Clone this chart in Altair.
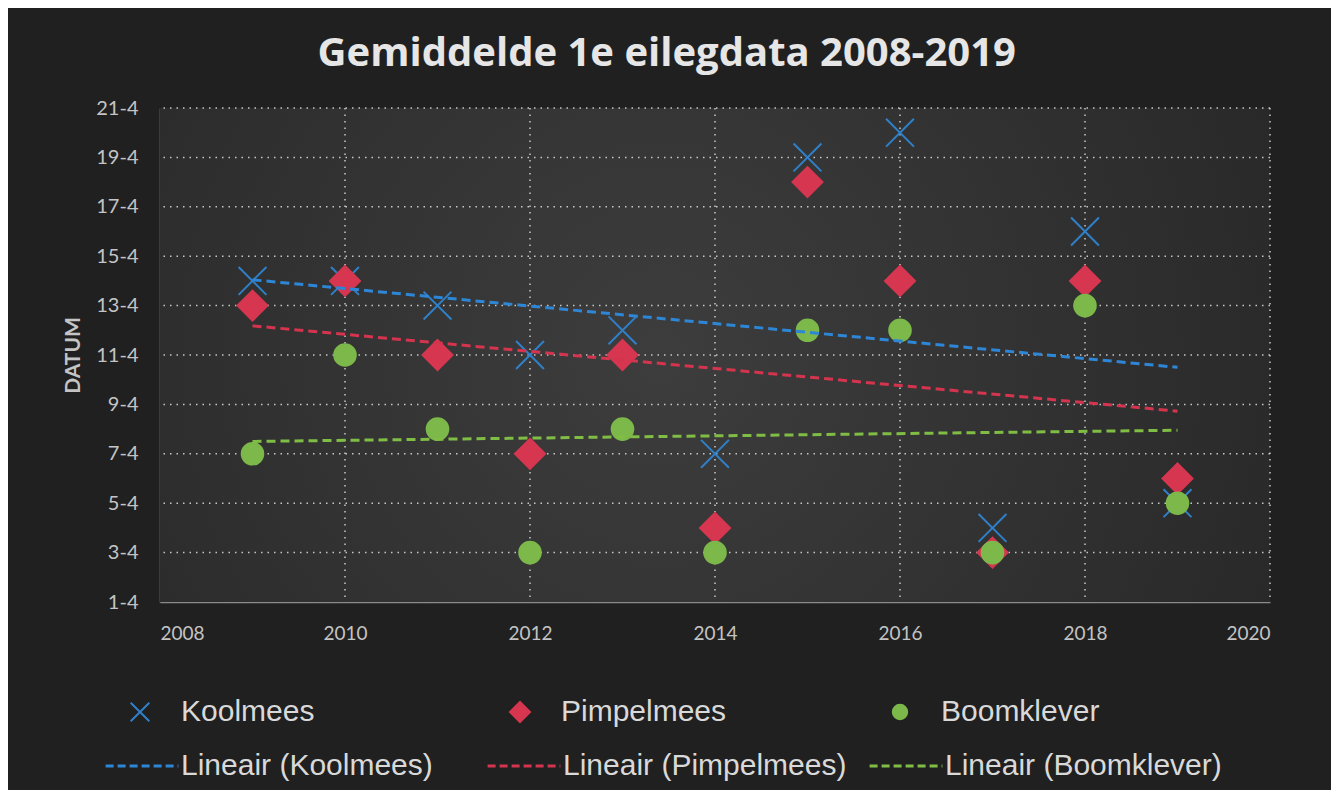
import altair as alt
import pandas as pd

# ---- data (day of April) ----
years = [2009, 2010, 2011, 2012, 2013, 2014, 2015, 2016, 2017, 2018, 2019]
koolmees = [14, 14, 13, 11, 12, 7, 19, 20, 4, 16, 5]
pimpelmees = [13, 14, 11, 7, 11, 4, 18, 14, 3, 14, 6]
boomklever = [7, 11, 8, 3, 8, 3, 12, 12, 3, 13, 5]
species = ["Koolmees", "Pimpelmees", "Boomklever"]
trend_labels = ["Lineair (Koolmees)", "Lineair (Pimpelmees)", "Lineair (Boomklever)"]
x_ticks = [2008, 2010, 2012, 2014, 2016, 2018, 2020]
y_ticks = [1, 3, 5, 7, 9, 11, 13, 15, 17, 19, 21]

rows = []
for sp, vals in zip(species, [koolmees, pimpelmees, boomklever]):
    for yr, d in zip(years, vals):
        rows.append({"year": yr, "day": d, "species": sp})
df = pd.DataFrame(rows)

point_colors = ["#2f80c8", "#d63650", "#7cb84a"]
line_colors = ["#2e86d6", "#d4344e", "#80bd45"]
X_PATH = "M-0.93,-0.93L0.93,0.93M-0.93,0.93L0.93,-0.93"
DIAMOND_PATH = "M0,-1L1,0L0,1L-1,0Z"
CIRCLE_PATH = "M0.72,0A0.72,0.72,0,1,1,-0.72,0A0.72,0.72,0,1,1,0.72,0Z"

LABEL_FONT = "Lato"
LEG_FONT = "Liberation Sans"
AXIS_GRAY = "#c4c4c4"

x_enc = alt.X(
    "year:Q",
    scale=alt.Scale(domain=[2008, 2020], nice=False, zero=False),
    axis=alt.Axis(values=x_ticks, format="d", title=None, labelPadding=22,
                  labelFontSize=19, labelFont=LABEL_FONT, labelColor=AXIS_GRAY,
                  ticks=False, domainColor="#8a8a8a", domainWidth=1.5, grid=False),
)
y_enc = alt.Y(
    "day:Q",
    scale=alt.Scale(domain=[1, 21], nice=False, zero=False),
    axis=alt.Axis(values=y_ticks, labelExpr="datum.value + '-4'", title="DATUM",
                  titleFont=LABEL_FONT, titleFontSize=21, titleFontWeight="bold",
                  titleColor=AXIS_GRAY, titlePadding=12,
                  labelPadding=22, labelFontSize=20, labelFont=LABEL_FONT,
                  labelColor=AXIS_GRAY, ticks=False, domainColor="#8a8a8a",
                  domainWidth=1.5, grid=False),
)

bg = alt.Chart(pd.DataFrame({"k": [0]})).mark_rect(
    color={
        "gradient": "radial",
        "x1": 0.45, "y1": 0.5, "x2": 0.45, "y2": 0.5,
        "r1": 0, "r2": 0.8,
        "stops": [
            {"offset": 0, "color": "#3d3d3d"},
            {"offset": 1, "color": "#222222"},
        ],
    }
).encode(x=alt.value(0), x2=alt.value("width"), y=alt.value(0), y2=alt.value("height"))

GRID = dict(strokeDash=[1.5, 5], strokeWidth=1.5, color="#d8d8d8", opacity=0.9)
grid_x = alt.Chart(pd.DataFrame({"year": x_ticks[1:]})).mark_rule(**GRID).encode(
    x=alt.X("year:Q"))
grid_y = alt.Chart(pd.DataFrame({"day": y_ticks[1:]})).mark_rule(**GRID).encode(
    y=alt.Y("day:Q"))

legend1 = dict(title=None, orient="none", legendX=-35, legendY=589,
               direction="horizontal", columns=3, gridAlign="all", columnPadding=158,
               labelFont=LEG_FONT, labelFontSize=30, labelColor="#d9d9d9",
               labelOffset=26, symbolSize=400, symbolStrokeWidth=2, padding=0,
               labelLimit=500)

points = alt.Chart(df).mark_point(filled=True, strokeWidth=2, opacity=1, size=900).encode(
    x=x_enc,
    y=y_enc,
    color=alt.Color("species:N", scale=alt.Scale(domain=species, range=point_colors),
                    legend=alt.Legend(**legend1)),
    stroke=alt.Stroke("species:N", scale=alt.Scale(domain=species, range=point_colors),
                      legend=alt.Legend(**legend1)),
    shape=alt.Shape("species:N",
                    scale=alt.Scale(domain=species, range=[X_PATH, DIAMOND_PATH, CIRCLE_PATH]),
                    legend=alt.Legend(**legend1)),
)

lines = alt.Chart(df).transform_regression(
    "year", "day", groupby=["species"], extent=[2009, 2019]
).transform_calculate(
    label="'Lineair (' + datum.species + ')'"
).mark_line(strokeDash=[9, 5], strokeWidth=3).encode(
    x=alt.X("year:Q"),
    y=alt.Y("day:Q"),
    color=alt.Color("label:N", scale=alt.Scale(domain=trend_labels, range=line_colors),
                    legend=alt.Legend(title=None, orient="none", legendX=-56, legendY=620,
                                      direction="horizontal", columns=3, gridAlign="all",
                                      columnPadding=16, symbolType="stroke", symbolSize=5300,
                                      symbolStrokeWidth=3, symbolDash=[8, 4],
                                      labelFont=LEG_FONT, labelFontSize=30,
                                      labelColor="#d9d9d9", labelOffset=1, padding=0,
                                      labelLimit=500)),
)

chart = alt.layer(bg, grid_x, grid_y, points, lines).resolve_scale(
    color="independent", shape="independent", stroke="independent"
).properties(
    width=1110,
    height=494,
    title=alt.TitleParams("Gemiddelde 1e eilegdata 2008-2019", fontSize=40, font="Open Sans",
                          fontWeight="bold", color="#e6e6e6", anchor="middle",
                          frame="bounds", offset=24),
    autosize=alt.AutoSizeParams(type="none"),
    padding={"left": 152, "top": 100, "right": 61, "bottom": 188},
).configure(background="#202020").configure_view(stroke=None)

chart.save("out.html", embed_options={"renderer": "svg", "actions": False})
